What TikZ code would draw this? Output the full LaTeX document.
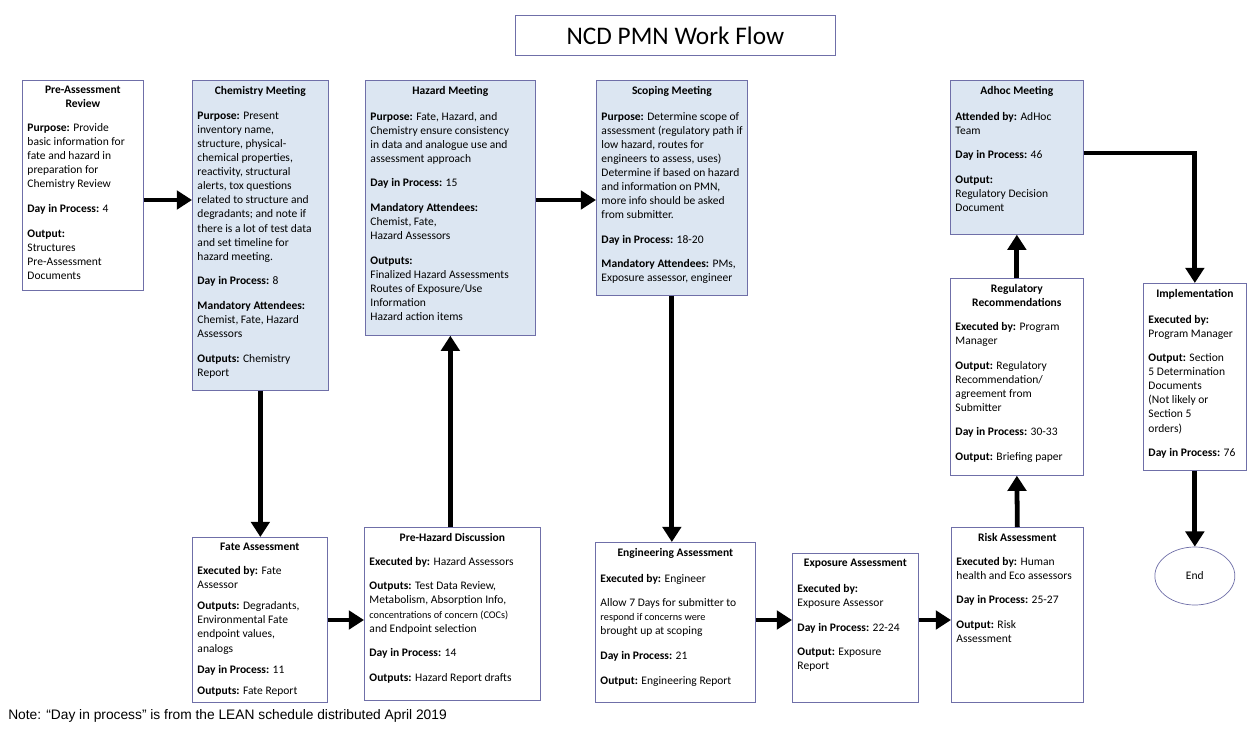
\documentclass[tikz,border=0pt]{standalone}
\usepackage{fontspec}
\setmainfont{Carlito}
\newfontfamily\notefont{Liberation Sans}
\usetikzlibrary{arrows.meta,shapes.geometric}
\definecolor{boxline}{HTML}{6F6FA8}
\definecolor{meetfill}{HTML}{DCE6F2}
\newcommand\boxfont{\fontsize{8.2}{10}\selectfont}

\begin{document}
\begin{tikzpicture}[font=\boxfont,
  box/.style={draw=boxline,line width=.5pt,fill=white,anchor=north west,inner sep=0pt},
  meet/.style={box,fill=meetfill},
  head/.style={anchor=north,font=\boxfont\bfseries,align=center,inner sep=0pt,yshift=-.15cm},
  body/.style={anchor=north west,align=left,font=\boxfont,inner sep=0pt,xshift=.13cm,yshift=-.38cm},
  flow/.style={line width=3.4pt,-{Triangle[length=.38cm,width=.46cm]}}]
\useasboundingbox (0,0) rectangle (31.2,-18.3);
\coordinate (row0) at (0,-3.825);
\coordinate (row1) at (0,-5);
\coordinate (row2) at (0,-15.5);
\node[box,minimum width=8cm,minimum height=1cm,font=\fontsize{18}{20}\selectfont] (title) at (12.875,-.375) {NCD PMN Work Flow};
\node[box,minimum width=3.025cm,minimum height=5.25cm] (pre) at (.55,-2) {};
\node[head] (pre-h) at (pre.north) {Pre-Assessment\\Review};
\node[body] (pre-b) at (pre-h.south -| pre.west) {\textbf{Purpose:} Provide\\basic information for\\fate and hazard in\\preparation for\\Chemistry Review\\[7.5pt]\textbf{Day in Process:} 4\\[7.5pt]\textbf{Output:}\\ Structures\\Pre-Assessment\\Documents};
\node[meet,minimum width=3.4cm,minimum height=7.75cm] (chem) at (4.8,-2) {};
\node[head] (chem-h) at (chem.north) {Chemistry Meeting};
\node[body] (chem-b) at (chem-h.south -| chem.west) {\textbf{Purpose:} Present\\inventory name,\\structure, physical-\\chemical properties,\\reactivity, structural\\alerts, tox questions\\related to structure and\\degradants; and note if\\there is a lot of test data\\and set timeline for\\hazard meeting.\\[7.5pt]\textbf{Day in Process:} 8\\[7.5pt]\textbf{Mandatory Attendees:}\\Chemist, Fate, Hazard\\Assessors\\[7.5pt]\textbf{Outputs:} Chemistry\\Report};
\node[meet,minimum width=4.25cm,minimum height=6.375cm] (haz) at (9.125,-2) {};
\node[head] (haz-h) at (haz.north) {Hazard Meeting};
\node[body] (haz-b) at (haz-h.south -| haz.west) {\textbf{Purpose:} Fate, Hazard, and\\Chemistry ensure consistency\\in data and analogue use and\\assessment approach\\[7.5pt]\textbf{Day in Process:} 15\\[7.5pt]\textbf{Mandatory Attendees:}\\Chemist, Fate,\\Hazard Assessors\\[7.5pt]\textbf{Outputs:}\\Finalized Hazard Assessments\\Routes of Exposure/Use\\Information\\Hazard action items};
\node[meet,minimum width=3.775cm,minimum height=5.375cm] (scop) at (14.9,-2) {};
\node[head] (scop-h) at (scop.north) {Scoping Meeting};
\node[body] (scop-b) at (scop-h.south -| scop.west) {\textbf{Purpose:} Determine scope of\\assessment (regulatory path if\\low hazard, routes for\\engineers to assess, uses)\\Determine if based on hazard\\and information on PMN,\\more info should be asked\\from submitter.\\[7.5pt]\textbf{Day in Process:} 18-20\\[7.5pt]\textbf{Mandatory Attendees:} PMs,\\Exposure assessor, engineer};
\node[meet,minimum width=3.325cm,minimum height=3.85cm] (adhoc) at (23.75,-2) {};
\node[head] (adhoc-h) at (adhoc.north) {Adhoc Meeting};
\node[body] (adhoc-b) at (adhoc-h.south -| adhoc.west) {\textbf{Attended by:} AdHoc\\Team\\[7.5pt]\textbf{Day in Process:} 46\\[7.5pt]\textbf{Output:}\\Regulatory Decision\\Document};
\node[box,minimum width=3.325cm,minimum height=4.925cm] (reg) at (23.75,-6.95) {};
\node[head] (reg-h) at (reg.north) {Regulatory\\Recommendations};
\node[body] (reg-b) at (reg-h.south -| reg.west) {\textbf{Executed by:} Program\\Manager\\[7.5pt]\textbf{Output:} Regulatory\\Recommendation/\\agreement from\\Submitter\\[7.5pt]\textbf{Day in Process:} 30-33\\[7.5pt]\textbf{Output:} Briefing paper};
\node[box,minimum width=2.575cm,minimum height=4.675cm] (impl) at (28.575,-7.075) {};
\node[head] (impl-h) at (impl.north) {Implementation};
\node[body] (impl-b) at (impl-h.south -| impl.west) {\textbf{Executed by:}\\Program Manager\\[7.5pt]\textbf{Output:} Section\\5 Determination\\Documents\\(Not likely or\\Section 5\\orders)\\[7.5pt]\textbf{Day in Process:} 76};
\node[ellipse,draw=boxline,line width=.5pt,minimum width=2cm,minimum height=1.45cm] (end) at (impl.south |- 0,-14.4) {End};
\node[box,minimum width=3.375cm,minimum height=4.125cm] (fate) at (4.8,-13.425) {};
\node[head] (fate-h) at (fate.north) {Fate Assessment};
\node[body] (fate-b) at (fate-h.south -| fate.west) {\textbf{Executed by:} Fate\\Assessor\\[5pt]\textbf{Outputs:} Degradants,\\Environmental Fate\\endpoint values,\\analogs\\[5pt]\textbf{Day in Process:} 11\\[5pt]\textbf{Outputs:} Fate Report};
\node[box,minimum width=4.4cm,minimum height=4.325cm] (prehaz) at (9.1,-13.175) {};
\node[head] (prehaz-h) at (prehaz.north) {Pre-Hazard Discussion};
\node[body] (prehaz-b) at (prehaz-h.south -| prehaz.west) {\textbf{Executed by:} Hazard Assessors\\[7.5pt]\textbf{Outputs:} Test Data Review,\\Metabolism, Absorption Info,\\{\fontsize{7.3}{10}\selectfont concentrations of concern (COCs)}\\and Endpoint selection\\[7.5pt]\textbf{Day in Process:} 14\\[7.5pt]\textbf{Outputs:} Hazard Report drafts};
\node[box,minimum width=4cm,minimum height=4cm] (eng) at (14.875,-13.55) {};
\node[head] (eng-h) at (eng.north) {Engineering Assessment};
\node[body] (eng-b) at (eng-h.south -| eng.west) {\textbf{Executed by:} Engineer\\[7.5pt]Allow 7 Days for submitter to\\{\fontsize{7.3}{10}\selectfont respond if concerns were}\\brought up at scoping\\[7.5pt]\textbf{Day in Process:} 21\\[7.5pt]\textbf{Output:} Engineering Report};
\node[box,minimum width=3.15cm,minimum height=3.725cm] (expo) at (19.8,-13.825) {};
\node[head] (expo-h) at (expo.north) {Exposure Assessment};
\node[body] (expo-b) at (expo-h.south -| expo.west) {\textbf{Executed by:}\\Exposure Assessor\\[7.5pt]\textbf{Day in Process:} 22-24\\[7.5pt]\textbf{Output:} Exposure\\Report};
\node[box,minimum width=3.3cm,minimum height=4.375cm] (risk) at (23.775,-13.175) {};
\node[head] (risk-h) at (risk.north) {Risk Assessment};
\node[body] (risk-b) at (risk-h.south -| risk.west) {\textbf{Executed by:} Human\\health and Eco assessors\\[7.5pt]\textbf{Day in Process:} 25-27\\[7.5pt]\textbf{Output:} Risk\\Assessment};
\node[anchor=west,font=\notefont\fontsize{9.8}{12}\selectfont,inner sep=0pt] (note) at (.2,-17.9) {Note: “Day in process” is from the LEAN schedule distributed April 2019};
\draw[flow] (pre.east |- row1) -- (chem.west |- row1);
\draw[flow] (haz.east |- row1) -- (scop.west |- row1);
\draw[flow] (chem.south) -- (fate.north -| chem.south);
\draw[flow] (fate.east |- row2) -- (prehaz.west |- row2);
\draw[flow] (prehaz.north -| haz.south) -- (haz.south);
\draw[flow] (scop.south) -- (eng.north -| scop.south);
\draw[flow] (eng.east |- row2) -- (expo.west |- row2);
\draw[flow] (expo.east |- row2) -- (risk.west |- row2);
\draw[flow] (risk.north) -- (reg.south);
\draw[flow] (reg.north) -- (adhoc.south);
\draw[flow] (adhoc.east |- row0) -| (impl.north);
\draw[flow] (impl.south) -- (end.north);
\end{tikzpicture}
\end{document}
